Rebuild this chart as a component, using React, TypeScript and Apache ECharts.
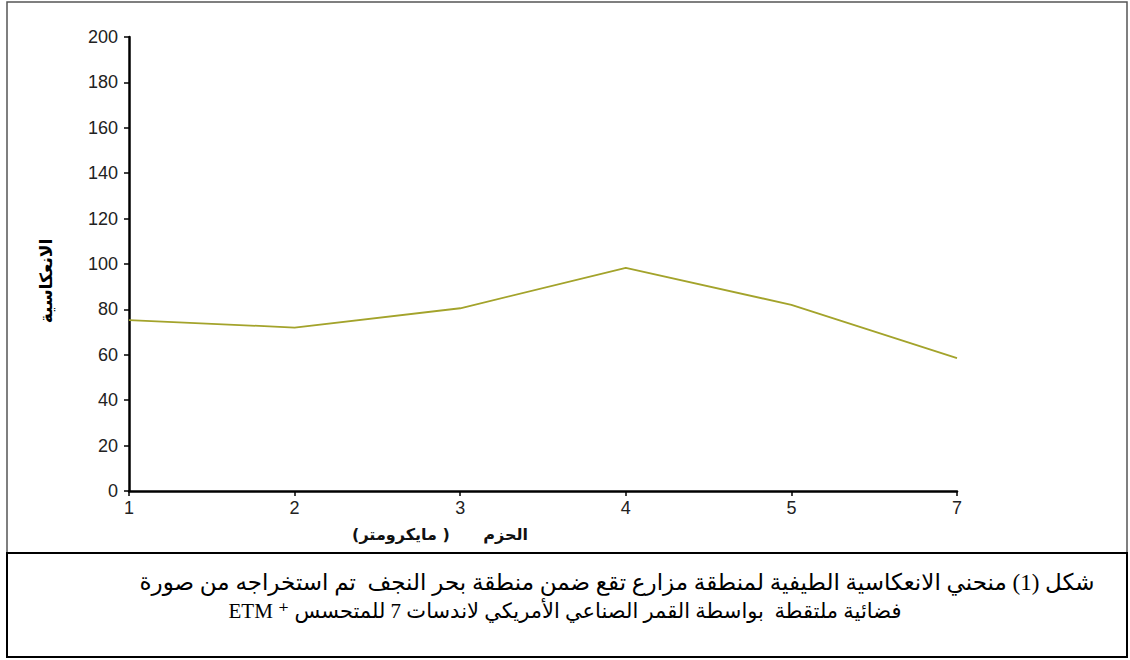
import React, { useEffect, useRef } from "react";
import * as echarts from "echarts";

const bands = ["1", "2", "3", "4", "5", "7"];
const reflectance = [75.3, 72, 80.5, 98.3, 82, 58.5];
const yTitle = "الانعكاسية";
const xTitle = "الحزم      ( مايكرومتر)";
const captionLine1 = "شكل (1) منحني الانعكاسية الطيفية لمنطقة مزارع تقع ضمن منطقة بحر النجف  تم استخراجه من صورة";
const captionLine2 = "فضائية ملتقطة  بواسطة القمر الصناعي الأمريكي لاندسات 7 للمتحسس";
const sensorLabel = "ETM ⁺";

const RLM = "\u200F";

export default function App() {
  const ref = useRef<HTMLDivElement>(null);
  useEffect(() => {
    if (!ref.current) return;
    const chart = echarts.init(ref.current, undefined, { renderer: "svg" });
    chart.setOption({
      animation: false,
      backgroundColor: "#ffffff",
      grid: { left: 129, right: 173, top: 37, bottom: 169 },
      xAxis: {
        type: "category",
        data: bands,
        boundaryGap: false,
        axisLine: { lineStyle: { color: "#000", width: 2.5 } },
        axisTick: { alignWithLabel: true, length: 5, lineStyle: { color: "#000", width: 1.5 } },
        axisLabel: { color: "#222", fontSize: 18, fontFamily: "Liberation Sans, Arial", margin: 8 },
        splitLine: { show: false },
      },
      yAxis: {
        type: "value",
        min: 0,
        max: 200,
        interval: 20,
        axisLine: { show: true, lineStyle: { color: "#000", width: 2.5 } },
        axisTick: { show: true, length: 5, lineStyle: { color: "#000", width: 1.5 } },
        axisLabel: { color: "#222", fontSize: 18, fontFamily: "Liberation Sans, Arial", margin: 11 },
        splitLine: { show: false },
      },
      series: [
        {
          type: "line",
          data: reflectance,
          symbol: "none",
          lineStyle: { color: "#a3a32b", width: 1.8 },
        },
      ],
      graphic: [
        {
          type: "polyline",
          shape: { points: [[7, 553], [7, 2], [1127, 2], [1127, 553]] },
          style: { fill: "none", stroke: "#555", lineWidth: 1.5 },
          silent: true,
        },
        {
          type: "rect",
          shape: { x: 7, y: 553, width: 1120, height: 104 },
          style: { fill: "none", stroke: "#000", lineWidth: 2 },
          silent: true,
        },
        {
          type: "text",
          x: 46,
          y: 281,
          rotation: Math.PI / 2,
          style: {
            text: RLM + yTitle + RLM,
            fill: "#000",
            font: "bold 17px 'DejaVu Sans', Arial",
            align: "center",
            verticalAlign: "middle",
          },
          silent: true,
        },
        {
          type: "text",
          x: 440,
          y: 534,
          style: {
            text: RLM + xTitle + RLM,
            fill: "#111",
            font: "bold 16px 'DejaVu Sans', Arial",
            align: "center",
            verticalAlign: "middle",
          },
          silent: true,
        },
        {
          type: "text",
          x: 617,
          y: 582,
          style: {
            text: RLM + captionLine1 + RLM,
            fill: "#000",
            font: "23px 'Liberation Serif', 'DejaVu Sans'",
            align: "center",
            verticalAlign: "middle",
          },
          silent: true,
        },
        {
          type: "text",
          x: 565,
          y: 611,
          style: {
            text: sensorLabel + " " + captionLine2,
            fill: "#000",
            font: "21px 'Liberation Serif', 'DejaVu Sans'",
            align: "center",
            verticalAlign: "middle",
          },
          silent: true,
        },
      ],
    });
    return () => chart.dispose();
  }, []);
  return (
    <div
      ref={ref}
      style={{ position: "fixed", left: 0, top: 0, width: 1130, height: 660, background: "#fff" }}
    />
  );
}
